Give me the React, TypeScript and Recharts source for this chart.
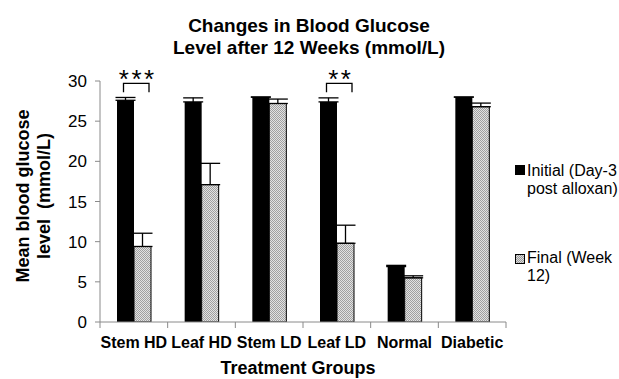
import React from "react";
import { BarChart, Bar, XAxis, YAxis, ErrorBar, LabelList } from "recharts";

// Treatment groups and mean blood glucose (mmol/L)
const groups = ["Stem HD", "Leaf HD", "Stem LD", "Leaf LD", "Normal", "Diabetic"];
const initialMeans = [27.6, 27.4, 28.0, 27.4, 6.9, 28.0];
const initialErrors = [0.35, 0.5, 0, 0.5, 0.15, 0];
const finalMeans = [9.4, 17.1, 27.2, 9.8, 5.5, 26.8];
const finalErrors = [1.65, 2.65, 0.55, 2.25, 0.25, 0.45];
const significance = ["***", "", "", "**", "", ""];
const yTicks = [0, 5, 10, 15, 20, 25, 30];

const data = groups.map((g, i) => ({
  group: g,
  initial: initialMeans[i],
  initialErr: [0, initialErrors[i]],
  final: finalMeans[i],
  finalErr: [0, finalErrors[i]],
  sig: significance[i],
}));

const W = 619;
const H = 379;
const M = { top: 81, right: 113, bottom: 27, left: 40 };
const PLOT_LEFT = 100;
const PLOT_BOTTOM = 322;
const BAND = (W - PLOT_LEFT - M.right) / groups.length;
const FONT = "'Liberation Sans', Arial, sans-serif";
const AXIS = "#8a8a8a";

// bracket levels (in data units) for the significance markers
const BRACKET_TOP = 29.7;
const BRACKET_LEG = 28.6;

const GroupTick = (props: any) => {
  const { x, index, payload } = props;
  const left = x - BAND / 2;
  const right = x + BAND / 2;
  return (
    <g>
      <line x1={left} x2={left} y1={PLOT_BOTTOM} y2={PLOT_BOTTOM + 6} stroke={AXIS} />
      {index === groups.length - 1 && (
        <line x1={right} x2={right} y1={PLOT_BOTTOM} y2={PLOT_BOTTOM + 6} stroke={AXIS} />
      )}
      <text
        x={x}
        y={PLOT_BOTTOM + 25.5}
        textAnchor="middle"
        fontFamily={FONT}
        fontSize={16}
        fontWeight="bold"
        fill="#000"
      >
        {payload.value}
      </text>
    </g>
  );
};

const SigBracket = (props: any) => {
  const { x, y, width, height, index } = props;
  const label = significance[index];
  if (!label) return null;
  const v = initialMeans[index];
  const ppu = height / v;
  const yTop = y - (BRACKET_TOP - v) * ppu;
  const yLeg = y - (BRACKET_LEG - v) * ppu;
  const x1 = x + 6.5;
  const x2 = x + width * 2 - 2;
  return (
    <g>
      <path
        d={`M${x1},${yLeg} L${x1},${yTop} L${x2},${yTop} L${x2},${yLeg}`}
        fill="none"
        stroke="#000"
        strokeWidth={1.3}
      />
      <text
        x={(x1 + x2) / 2 + 1.5}
        y={yTop + 4.5}
        textAnchor="middle"
        fontFamily={FONT}
        fontSize={26}
        letterSpacing={2.5}
        fill="#000"
      >
        {label}
      </text>
    </g>
  );
};

const Swatch = ({ kind }: { kind: "initial" | "final" }) => (
  <svg width={10} height={10} style={{ display: "block" }}>
    <defs>
      <pattern id={"lg-dots"} width={2} height={2} patternUnits="userSpaceOnUse">
        <rect width={2} height={2} fill="#dcdcdc" />
        <rect width={1} height={1} fill="#9a9a9a" />
        <rect x={1} y={1} width={1} height={1} fill="#9a9a9a" />
      </pattern>
    </defs>
    <rect
      x={0.5}
      y={0.5}
      width={9}
      height={9}
      fill={kind === "initial" ? "#000" : "url(#lg-dots)"}
      stroke="#000"
      strokeWidth={1}
    />
  </svg>
);

export default function App() {
  return (
    <div style={{ position: "absolute", left: 0, top: 0, width: W, height: H, background: "#fff", overflow: "hidden" }}>
      <BarChart width={W} height={H} data={data} margin={M} barGap={0} barSize={17}>
        <defs>
          <pattern id="dots" width={2} height={2} patternUnits="userSpaceOnUse">
            <rect width={2} height={2} fill="#e2e2e2" />
            <rect width={1} height={1} fill="#a0a0a0" />
            <rect x={1} y={1} width={1} height={1} fill="#a0a0a0" />
          </pattern>
        </defs>
        <XAxis
          dataKey="group"
          height={30}
          stroke={AXIS}
          tickLine={false}
          interval={0}
          tick={<GroupTick />}
        />
        <YAxis
          width={60}
          domain={[0, 30]}
          ticks={yTicks}
          stroke={AXIS}
          tickSize={5}
          tickMargin={8}
          tick={{ fill: "#000", fontSize: 17, fontFamily: FONT }}
          allowDataOverflow
        />
        <Bar dataKey="initial" fill="#000" isAnimationActive={false}>
          <ErrorBar dataKey="initialErr" width={10} stroke="#000" strokeWidth={1.3} direction="y" />
          <LabelList dataKey="sig" content={<SigBracket />} />
        </Bar>
        <Bar dataKey="final" fill="url(#dots)" stroke="#000" strokeWidth={1} isAnimationActive={false}>
          <ErrorBar dataKey="finalErr" width={10} stroke="#000" strokeWidth={1.3} direction="y" />
        </Bar>
      </BarChart>

      <svg
        width={W}
        height={H}
        style={{ position: "absolute", left: 0, top: 0, pointerEvents: "none" }}
      >
        <g fontFamily={FONT} fontWeight="bold" fill="#000">
          <text x={309} y={31.5} textAnchor="middle" fontSize={19}>
            Changes in Blood Glucose
          </text>
          <text x={309} y={53.5} textAnchor="middle" fontSize={19}>
            Level after 12 Weeks (mmol/L)
          </text>
          <text x={298} y={374} textAnchor="middle" fontSize={18}>
            Treatment Groups
          </text>
          <text transform="translate(28.5,196) rotate(-90)" textAnchor="middle" fontSize={18}>
            Mean blood glucose
          </text>
          <text transform="translate(49.5,196) rotate(-90)" textAnchor="middle" fontSize={18} xmlSpace="preserve">
            {"level  (mmol/L)"}
          </text>
        </g>
      </svg>

      <div
        style={{
          position: "absolute",
          left: 515,
          top: 162,
          fontFamily: FONT,
          fontSize: 16,
          lineHeight: "18px",
          color: "#000",
          whiteSpace: "nowrap",
        }}
      >
        <div style={{ display: "flex", alignItems: "flex-start" }}>
          <div style={{ marginTop: 3, marginRight: 2 }}>
            <Swatch kind="initial" />
          </div>
          <div>
            Initial (Day-3
            <br />
            post alloxan)
          </div>
        </div>
        <div style={{ display: "flex", alignItems: "flex-start", marginTop: 51 }}>
          <div style={{ marginTop: 5, marginRight: 2 }}>
            <Swatch kind="final" />
          </div>
          <div>
            Final (Week
            <br />
            12)
          </div>
        </div>
      </div>
    </div>
  );
}
